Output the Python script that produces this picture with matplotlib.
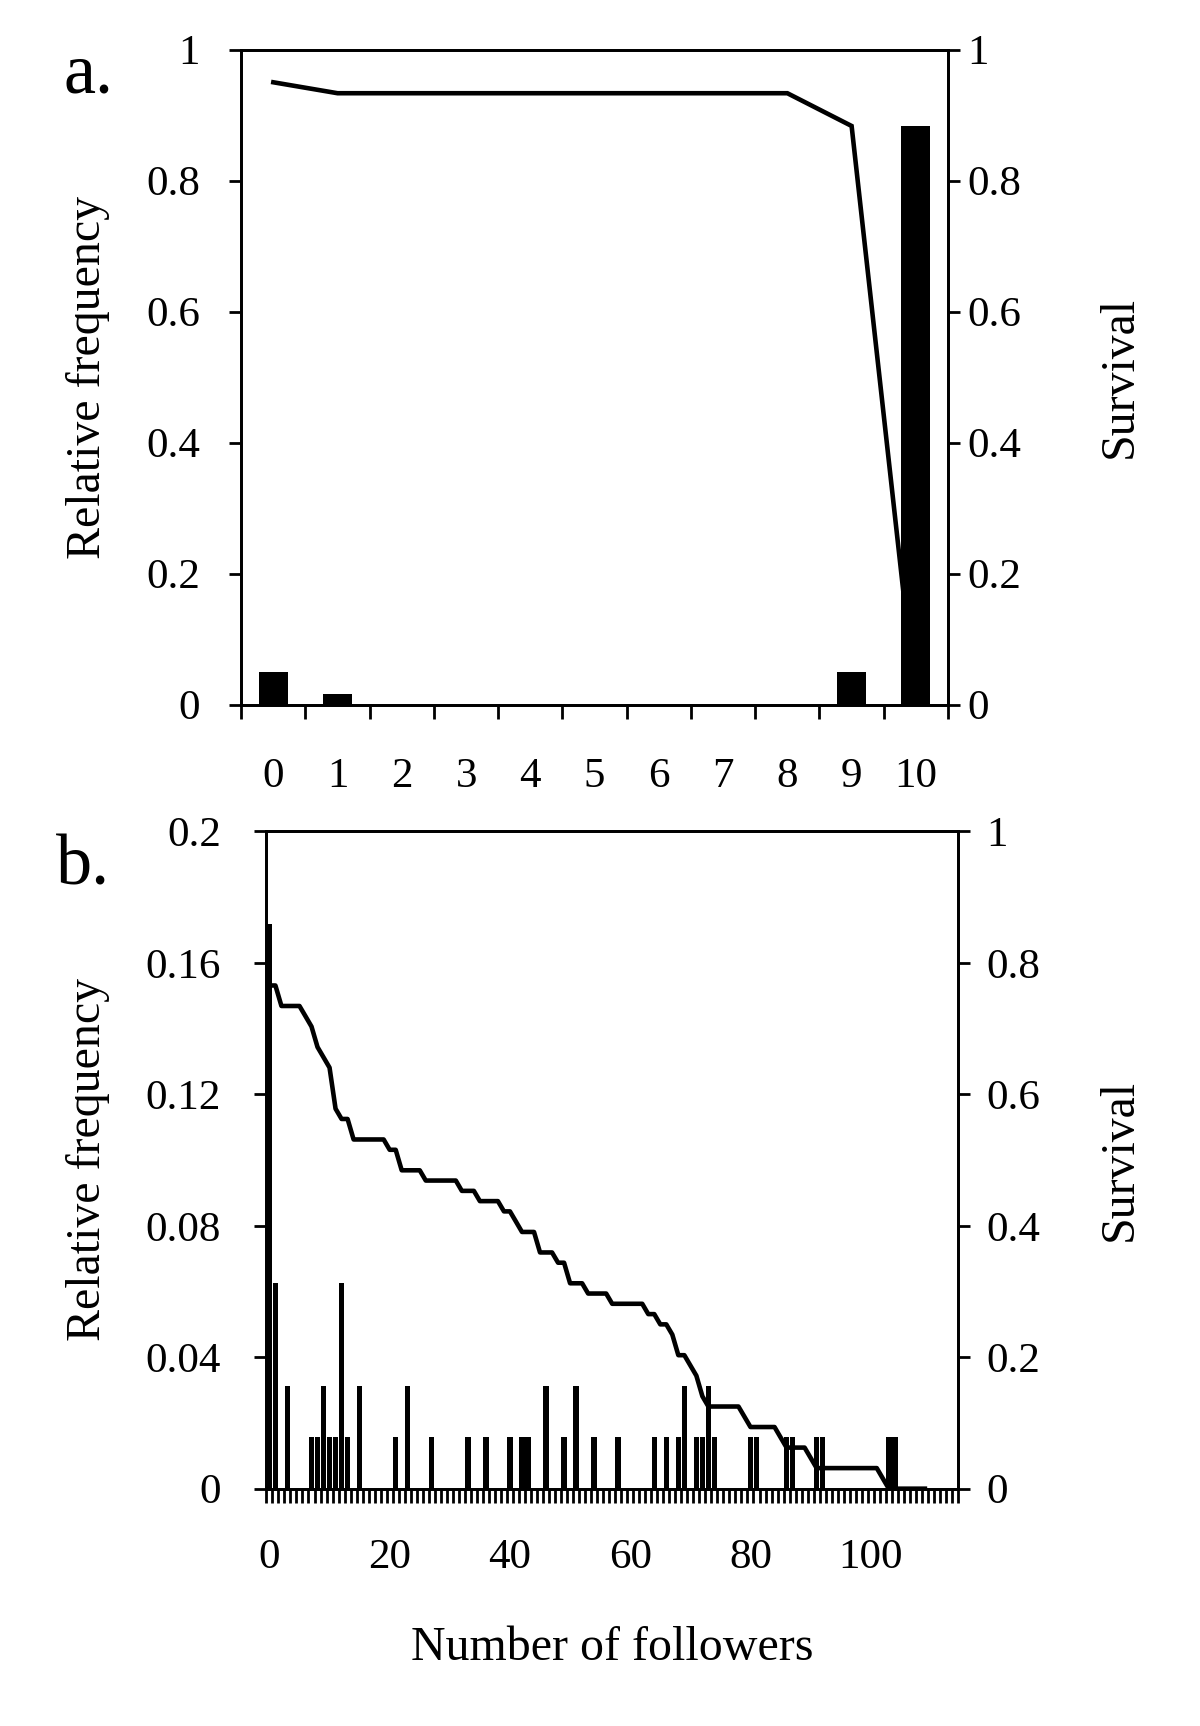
import matplotlib
matplotlib.use("Agg")
import matplotlib.pyplot as plt

plt.rcParams["font.family"] = ["Liberation Serif", "DejaVu Serif"]

# Panel a: groups with 0-10 followers
a_followers = [0, 1, 2, 3, 4, 5, 6, 7, 8, 9, 10]
a_freq = [0.05, 0.0167, 0, 0, 0, 0, 0, 0, 0, 0.05, 0.8833]
a_survival = [0.95, 0.9333, 0.9333, 0.9333, 0.9333, 0.9333, 0.9333, 0.9333,
              0.9333, 0.8833, 0.0]

# Panel b: number of followers 0-114, only non-zero bars listed
b_bar_followers = [0, 1, 3, 7, 8, 9, 10, 11, 12, 13, 15, 21, 23, 27, 33, 36, 40,
                   42, 43, 46, 49, 51, 54, 58, 64, 66, 68, 69, 71, 72, 73, 74,
                   80, 81, 86, 87, 91, 92, 103, 104]
b_bar_freq = [0.1719, 0.0625, 0.0313, 0.0156, 0.0156, 0.0313, 0.0156, 0.0156,
              0.0625, 0.0156, 0.0313, 0.0156, 0.0313, 0.0156, 0.0156, 0.0156,
              0.0156, 0.0156, 0.0156, 0.0313, 0.0156, 0.0313, 0.0156, 0.0156,
              0.0156, 0.0156, 0.0156, 0.0313, 0.0156, 0.0156, 0.0313, 0.0156,
              0.0156, 0.0156, 0.0156, 0.0156, 0.0156, 0.0156, 0.0156, 0.0156]
b_survival = [
    0.7656, 0.7656, 0.7344, 0.7344, 0.7344, 0.7344, 0.7188, 0.7031, 0.6719, 0.6563,
    0.6406, 0.5781, 0.5625, 0.5625, 0.5313, 0.5313, 0.5313, 0.5313, 0.5313, 0.5313,
    0.5156, 0.5156, 0.4844, 0.4844, 0.4844, 0.4844, 0.4688, 0.4688, 0.4688, 0.4688,
    0.4688, 0.4688, 0.4531, 0.4531, 0.4531, 0.4375, 0.4375, 0.4375, 0.4375, 0.4219,
    0.4219, 0.4063, 0.3906, 0.3906, 0.3906, 0.3594, 0.3594, 0.3594, 0.3438, 0.3438,
    0.3125, 0.3125, 0.3125, 0.2969, 0.2969, 0.2969, 0.2969, 0.2813, 0.2813, 0.2813,
    0.2813, 0.2813, 0.2813, 0.2656, 0.2656, 0.25, 0.25, 0.2344, 0.2031, 0.2031,
    0.1875, 0.1719, 0.1406, 0.125, 0.125, 0.125, 0.125, 0.125, 0.125, 0.1094,
    0.0938, 0.0938, 0.0938, 0.0938, 0.0938, 0.0781, 0.0625, 0.0625, 0.0625, 0.0625,
    0.0469, 0.0313, 0.0313, 0.0313, 0.0313, 0.0313, 0.0313, 0.0313, 0.0313, 0.0313,
    0.0313, 0.0313, 0.0156, 0, 0, 0, 0, 0, 0, 0]
b_xlabels = [0, 20, 40, 60, 80, 100]

TICK_FS = 31
LABEL_FS = 34.5
LW = 2.0

fig = plt.figure(figsize=(12, 17.26), dpi=100)


def style_axes(ax, ax2, left_pad, right_pad, x_pad):
    for a in (ax, ax2):
        for s in a.spines.values():
            s.set_linewidth(LW)
    ax.tick_params(axis="y", direction="out", length=8.6, width=LW,
                   labelsize=TICK_FS, pad=left_pad)
    ax2.tick_params(axis="y", direction="out", length=8.6, width=LW,
                    labelsize=TICK_FS, pad=right_pad)
    ax.tick_params(axis="x", which="major", length=0, labelsize=TICK_FS, pad=x_pad)
    ax.tick_params(axis="x", which="minor", direction="out", length=10, width=LW)


# ---- panel a ----
ax = fig.add_axes([0.201, 0.5918, 0.589, 0.3795])
ax2 = ax.twinx()
ax.set_zorder(ax2.get_zorder() + 1)
ax.patch.set_visible(False)
ax.bar(a_followers, a_freq, width=0.45, color="black")
ax2.plot(a_followers, a_survival, color="black", lw=3.3, solid_joinstyle="miter")
ax.set_xlim(-0.5, 10.5)
ax.set_ylim(0, 1)
ax2.set_ylim(0, 1)
ax.set_xticks(a_followers)
ax.set_xticks([i - 0.5 for i in a_followers] + [10.5], minor=True)
ax.set_yticks([0, 0.2, 0.4, 0.6, 0.8, 1])
ax.set_yticklabels(["0", "0.2", "0.4", "0.6", "0.8", "1"])
ax2.set_yticks([0, 0.2, 0.4, 0.6, 0.8, 1])
ax2.set_yticklabels(["0", "0.2", "0.4", "0.6", "0.8", "1"])
style_axes(ax, ax2, left_pad=21, right_pad=5, x_pad=38)

# ---- panel b ----
bx = fig.add_axes([0.222, 0.1375, 0.5763, 0.3808])
bx2 = bx.twinx()
bx.bar(b_bar_followers, b_bar_freq, width=0.9, color="black")
bx2.plot(range(len(b_survival)), b_survival, color="black", lw=3.3)
bx.set_xlim(-0.5, 114.5)
bx.set_ylim(0, 0.2)
bx2.set_ylim(0, 1)
bx.set_xticks(b_xlabels)
bx.set_xticks([i - 0.5 for i in range(116)], minor=True)
bx.set_yticks([0, 0.04, 0.08, 0.12, 0.16, 0.2])
bx.set_yticklabels(["0", "0.04", "0.08", "0.12", "0.16", "0.2"])
bx2.set_yticks([0, 0.2, 0.4, 0.6, 0.8, 1])
bx2.set_yticklabels(["0", "0.2", "0.4", "0.6", "0.8", "1"])
style_axes(bx, bx2, left_pad=24, right_pad=12, x_pad=36)

# ---- labels ----
fig.text(0.0525, 0.9463, "a.", fontsize=52, va="baseline")
fig.text(0.047, 0.4878, "b.", fontsize=52, va="baseline")
for yc in (0.7816, 0.328):
    fig.text(0.0733, yc, "Relative frequency", fontsize=LABEL_FS,
             rotation=90, ha="center", va="center")
    fig.text(0.933, yc, "Survival", fontsize=LABEL_FS,
             rotation=90, ha="center", va="center")
fig.text(0.51, 0.0452, "Number of followers", fontsize=LABEL_FS,
         ha="center", va="center")

fig.savefig("out.png", dpi=100, facecolor="white")
